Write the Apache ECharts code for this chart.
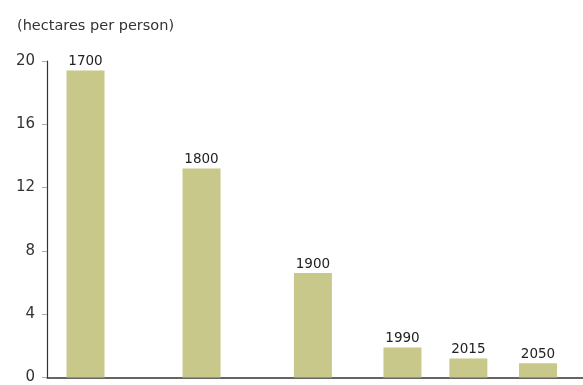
<!DOCTYPE html>
<html>
<head>
<meta charset="utf-8">
<script src="https://cdn.jsdelivr.net/npm/echarts@6/dist/echarts.min.js"></script>
<style>
  html, body { margin: 0; padding: 0; background: #fff; }
  #chart { width: 583px; height: 385px; }
</style>
</head>
<body>
<div id="chart"></div>
<script>
// Arable land per person over time
const years = ['1700', '1800', '1900', '1990', '2015', '2050'];
const hectares = [19.4, 13.2, 6.6, 1.9, 1.2, 0.9];
// bars sit at uneven slots along the horizontal axis
const slots = [0, 5, 9.8, 13.66, 16.5, 19.5];
const yTicks = [0, 4, 8, 12, 16, 20];
const unitLabel = '(hectares per person)';

const chart = echarts.init(document.getElementById('chart'), null, { renderer: 'canvas' });

chart.setOption({
  animation: false,
  backgroundColor: '#ffffff',
  textStyle: { fontFamily: 'DejaVu Sans' },
  title: {
    text: unitLabel,
    left: 12,
    top: 14,
    textStyle: { fontSize: 14.5, fontWeight: 'normal', color: '#333', fontFamily: 'DejaVu Sans' }
  },
  grid: { left: 47, right: 0, top: 61, bottom: 4, containLabel: false },
  xAxis: {
    type: 'value',
    min: -1.66,
    max: 21.44,
    axisLine: { show: true, onZero: false, lineStyle: { color: '#333', width: 1.5 } },
    axisTick: { show: false },
    axisLabel: { show: false },
    splitLine: { show: false }
  },
  yAxis: {
    type: 'value',
    min: yTicks[0],
    max: yTicks[yTicks.length - 1],
    interval: 4,
    axisLine: { show: true, onZero: false, lineStyle: { color: '#333', width: 1.2 } },
    axisTick: { show: true, length: 5, lineStyle: { color: '#aaa' } },
    axisLabel: { margin: 12, fontSize: 15, color: '#333', fontFamily: 'DejaVu Sans' },
    splitLine: { show: false }
  },
  series: [{
    type: 'bar',
    barWidth: 38,
    data: hectares.map((v, i) => ({ value: [slots[i], v], name: years[i] })),
    itemStyle: { color: '#c8c88a' },
    label: {
      show: true,
      position: 'top',
      distance: 2,
      formatter: p => years[p.dataIndex],
      fontSize: 13.5,
      color: '#222',
      fontFamily: 'DejaVu Sans'
    }
  }]
});
</script>
</body>
</html>
